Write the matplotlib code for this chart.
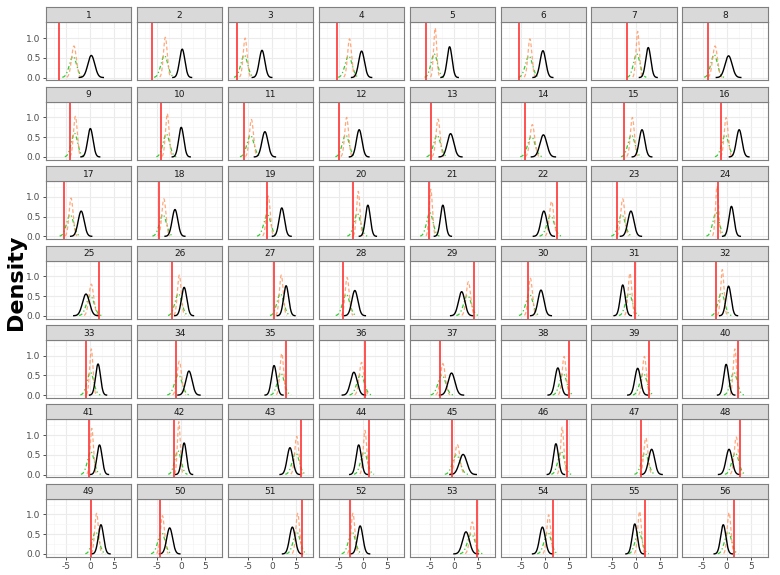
import matplotlib
matplotlib.use("Agg")
import matplotlib.pyplot as plt
import numpy as np

# one value per panel, panels 1..56
red_x = [-6.6, -6.1, -7.3, -5.4, -5.9, -5.3, -1.8, -3.9,
         -4.2, -4.1, -5.8, -5.0, -4.8, -4.1, -2.5, -1.1,
         -5.4, -4.6, -1.1, -2.0, -5.2, 2.6, -3.9, -1.8,
         1.8, -1.9, 0.4, -4.2, 4.2, -3.4, -0.1, -2.2,
         -0.8, -1.0, 2.8, 0.5, -2.9, 5.1, 2.8, 2.3,
         -0.2, -1.5, 6.0, 1.2, -0.4, 4.5, 1.1, 2.8,
         0.1, -4.5, 6.2, -2.7, 4.7, 1.7, 1.9, 1.5]

black_mu = [0.2, 0.2, -2.1, -0.3, -0.9, -0.4, 2.6, 0.4,
            0.0, 0.0, -1.5, -0.8, -0.7, -0.3, 1.3, 2.6,
            -1.9, -1.3, 2.0, 1.0, -2.3, -0.2, -1.0, 1.0,
            -0.9, 0.6, 2.9, -1.7, 1.6, -0.8, -2.7, 0.4,
            1.6, 1.6, 0.4, -1.9, -0.5, 2.7, 0.4, -0.1,
            1.9, 0.6, 3.7, -0.9, 1.9, 2.3, 3.3, 0.5,
            2.2, -2.4, 4.2, -0.6, 2.5, -0.5, -0.2, -0.7]
black_peak = [0.56, 0.72, 0.69, 0.67, 0.78, 0.68, 0.76, 0.55,
              0.72, 0.75, 0.64, 0.69, 0.59, 0.56, 0.69, 0.69,
              0.64, 0.68, 0.72, 0.79, 0.79, 0.64, 0.64, 0.76,
              0.55, 0.72, 0.76, 0.64, 0.61, 0.65, 0.78, 0.75,
              0.79, 0.61, 0.75, 0.58, 0.56, 0.69, 0.68, 0.78,
              0.75, 0.80, 0.68, 0.75, 0.51, 0.78, 0.64, 0.64,
              0.74, 0.66, 0.68, 0.71, 0.56, 0.68, 0.76, 0.74]

orange_mu = [-3.4, -3.3, -5.6, -2.8, -3.9, -3.1, 0.4, -2.4,
             -3.1, -2.9, -4.3, -3.4, -3.3, -2.6, -0.7, -0.1,
             -4.0, -3.6, -0.8, -1.0, -4.8, 1.4, -2.7, -2.0,
             0.2, -0.4, 1.9, -3.3, 3.0, -3.0, -1.2, -0.9,
             0.2, -0.4, 2.0, -0.3, -2.3, 4.0, 1.8, 1.7,
             0.3, -0.5, 5.1, 0.4, 0.7, 3.6, 2.1, 2.0,
             1.3, -3.9, 5.3, -2.1, 3.8, 0.8, 0.8, 0.5]
orange_peak = [0.80, 1.02, 1.00, 0.98, 1.26, 0.98, 1.17, 0.80,
               1.03, 1.10, 0.95, 1.00, 0.96, 0.82, 1.00, 1.00,
               0.97, 0.95, 1.02, 1.14, 1.19, 0.89, 0.95, 1.27,
               0.80, 1.03, 1.03, 0.97, 0.86, 0.95, 1.08, 1.17,
               1.17, 0.86, 1.06, 0.83, 0.80, 0.98, 0.98, 1.17,
               1.17, 1.34, 0.97, 1.12, 0.76, 1.20, 0.93, 0.95,
               1.03, 0.97, 1.03, 1.03, 0.81, 0.99, 1.08, 1.05]

green_mu = [-3.6, -3.5, -5.8, -3.0, -4.1, -3.3, 0.2, -2.6,
            -3.3, -3.1, -4.5, -3.6, -3.5, -2.8, -0.9, -0.3,
            -4.2, -3.8, -1.0, -1.2, -5.0, 1.2, -2.9, -2.2,
            0.0, -0.6, 1.7, -3.5, 2.8, -3.2, -1.4, -1.1,
            0.0, -0.6, 1.8, -0.5, -2.5, 3.8, 1.6, 1.5,
            0.1, -0.7, 4.9, 0.2, 0.5, 3.4, 1.9, 1.8,
            1.1, -4.1, 5.1, -2.3, 3.6, 0.6, 0.6, 0.3]
green_peak = [0.54, 0.56, 0.57, 0.55, 0.60, 0.55, 0.60, 0.58,
              0.60, 0.58, 0.55, 0.56, 0.55, 0.52, 0.56, 0.56,
              0.55, 0.55, 0.56, 0.58, 0.60, 0.52, 0.55, 0.60,
              0.51, 0.56, 0.56, 0.55, 0.52, 0.55, 0.57, 0.58,
              0.58, 0.52, 0.56, 0.52, 0.51, 0.55, 0.55, 0.58,
              0.58, 0.60, 0.55, 0.57, 0.50, 0.58, 0.55, 0.55,
              0.56, 0.55, 0.56, 0.56, 0.51, 0.55, 0.57, 0.56]

panel_labels = [str(i) for i in range(1, 57)]


def dens(mu, peak, n_sd=3.2):
    sd = 1.0 / (np.sqrt(2 * np.pi) * peak)
    x = np.linspace(mu - n_sd * sd, mu + n_sd * sd, 200)
    return x, peak * np.exp(-0.5 * ((x - mu) / sd) ** 2)


W, H = 780, 575
fig = plt.figure(figsize=(7.8, 5.75), dpi=100)

nrow, ncol = 7, 8
left0, col_step, pw = 46, 90.9, 85.3
top0, row_step, ph, sh = 22.3, 79.4, 58.0, 15.0
border = "#7f7f7f"

for i in range(56):
    r, c = divmod(i, ncol)
    x_px = left0 + c * col_step
    y_top = top0 + r * row_step
    ax = fig.add_axes([x_px / W, (H - y_top - ph) / H, pw / W, ph / H])
    st = fig.add_axes([x_px / W, (H - y_top) / H, pw / W, sh / H])

    # strip
    st.set_facecolor("#d9d9d9")
    st.set_xticks([])
    st.set_yticks([])
    for s in st.spines.values():
        s.set_color(border)
        s.set_linewidth(0.8)
    st.text(0.5, 0.45, panel_labels[i], ha="center", va="center",
            fontsize=6.5, color="#1a1a1a", transform=st.transAxes)

    # panel
    ax.set_xlim(-9.2, 8.5)
    ax.set_ylim(-0.07, 1.40)
    ax.set_xticks([-5, 0, 5])
    ax.set_xticks([-7.5, -2.5, 2.5, 7.5], minor=True)
    ax.set_yticks([0, 0.5, 1.0])
    ax.set_yticks([0.25, 0.75, 1.25], minor=True)
    ax.grid(which="major", color="#ebebeb", lw=0.8)
    ax.grid(which="minor", color="#f5f5f5", lw=0.5)
    ax.set_axisbelow(True)
    for s in ax.spines.values():
        s.set_color(border)
        s.set_linewidth(0.8)
    ax.tick_params(which="major", length=2.5, width=0.6, color="#333333",
                   labelsize=6.5, labelcolor="#4d4d4d", pad=1.5)
    ax.tick_params(which="minor", length=0)
    if c == 0:
        ax.set_yticklabels(["0.0", "0.5", "1.0"])
    else:
        ax.tick_params(axis="y", which="major", length=0)
        ax.set_yticklabels([])
    if r == nrow - 1:
        ax.set_xticklabels(["-5", "0", "5"])
    else:
        ax.tick_params(axis="x", which="major", length=0)
        ax.set_xticklabels([])

    gx, gy = dens(green_mu[i], green_peak[i], 3.0)
    ax.plot(gx, gy, color="#33cc33", lw=0.9, ls=(0, (3, 2, 1, 2)))
    ox, oy = dens(orange_mu[i], orange_peak[i], 3.0)
    ax.plot(ox, oy, color="#ff9966", lw=0.9, ls=(0, (3, 2)), alpha=0.85)
    bx, by = dens(black_mu[i], black_peak[i], 3.5)
    ax.plot(bx, by, color="black", lw=1.0)
    ax.axvline(red_x[i], color="#ff3333", lw=1.2)

fig.text(16 / W, 1 - 282 / H, "Density", rotation=90, ha="center", va="center",
         fontsize=16, fontweight="bold")

fig.savefig("out.png", dpi=100)
